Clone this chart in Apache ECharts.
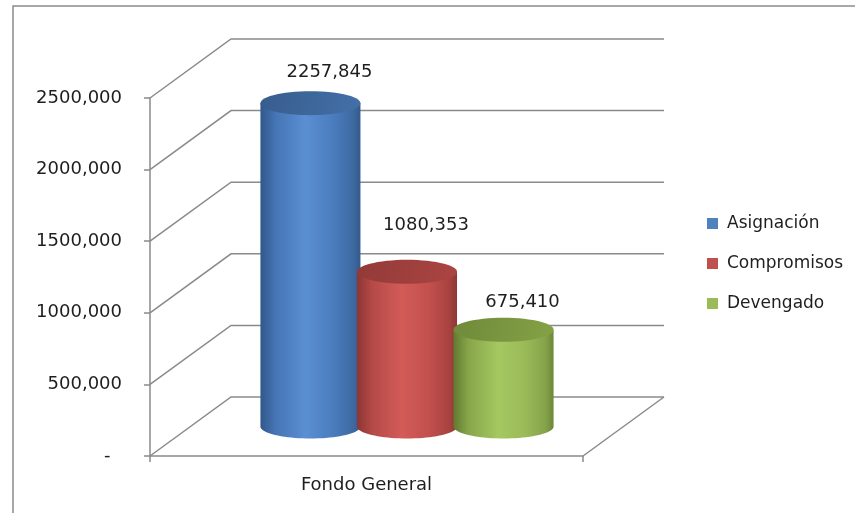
<!DOCTYPE html>
<html>
<head>
<meta charset="utf-8">
<script src="https://cdn.jsdelivr.net/npm/echarts@6/dist/echarts.min.js"></script>
<style>
html,body{margin:0;padding:0;background:#fff;}
#chart{width:855px;height:513px;}
</style>
</head>
<body>
<div id="chart"></div>
<script>
// ---- data ----
const categories = ['Fondo General'];
const seriesNames = ['Asignación', 'Compromisos', 'Devengado'];
const asignacion = [2257.845];
const compromisos = [1080.353];
const devengado = [675.410];
const yTicks = [0, 500, 1000, 1500, 2000, 2500];

// ---- styling ----
const FONT = 'DejaVu Sans';
const DEPTH = { dx: 81, dy: -59 };
const BAR_STEP = 0.223;     // fraction of band between bar centers
const BAR_HALF = 0.1155;    // half bar width as fraction of band
const ELL_RY = 12;
const LABEL_LIFT = [31, 46, 27];
const LABEL_SHIFT = 19;
const palettes = [
  { base: '#4F81BD', body: ['#31588a', '#4575b5', '#5a8fd2', '#4b7dbf', '#3e6aa3', '#345a8c'], top: ['#375d8c', '#4470a8'] },
  { base: '#C0504D', body: ['#8c3533', '#b44a47', '#d35b58', '#c2504d', '#a8433f', '#8d3836'], top: ['#923a38', '#ab4542'] },
  { base: '#9BBB59', body: ['#617a30', '#87a64a', '#a5c861', '#9aba58', '#85a34a', '#6c8738'], top: ['#6f8a39', '#84a246'] }
];
const GRID_COLOR = '#8a8a8a';

function fmt(v) { return v.toFixed(3).replace('.', ','); }

function ellipsePts(cx, cy, rx, ry, a0, a1, n) {
  const pts = [];
  for (let i = 0; i <= n; i++) {
    const a = a0 + (a1 - a0) * i / n;
    pts.push([cx + rx * Math.cos(a), cy + ry * Math.sin(a)]);
  }
  return pts;
}

function cylinder(sIdx) {
  const pal = palettes[sIdx];
  return function (params, api) {
    const cat = api.value(0), v = api.value(1);
    const band = api.size([1, 0])[0];
    const c = api.coord([cat, v]);
    const b = api.coord([cat, 0]);
    const cx = c[0] + (sIdx - 1) * band * BAR_STEP + DEPTH.dx / 2;
    const yt = c[1] + DEPTH.dy / 2;
    const yb = b[1] + DEPTH.dy / 2;
    const rx = band * BAR_HALF;
    const bodyPts = [[cx - rx, yt]].concat(ellipsePts(cx, yb, rx, ELL_RY, Math.PI, 0, 40)).concat([[cx + rx, yt]]);
    const topPts = ellipsePts(cx, yt, rx, ELL_RY, 0, Math.PI * 2, 60);
    const bs = pal.body;
    return {
      type: 'group',
      children: [
        {
          type: 'polygon',
          shape: { points: bodyPts },
          style: {
            fill: new echarts.graphic.LinearGradient(0, 0, 1, 0, [
              { offset: 0, color: bs[0] }, { offset: 0.15, color: bs[1] },
              { offset: 0.45, color: bs[2] }, { offset: 0.72, color: bs[3] },
              { offset: 0.92, color: bs[4] }, { offset: 1, color: bs[5] }
            ])
          }
        },
        {
          type: 'polygon',
          shape: { points: topPts },
          style: {
            fill: new echarts.graphic.LinearGradient(0, 0, 1, 1, [
              { offset: 0, color: pal.top[0] }, { offset: 1, color: pal.top[1] }
            ])
          }
        },
        {
          type: 'text',
          style: {
            x: cx + LABEL_SHIFT, y: yt - LABEL_LIFT[sIdx],
            text: fmt(v), fill: '#1e1e1e',
            font: '18px "' + FONT + '"',
            align: 'center', verticalAlign: 'middle'
          }
        }
      ]
    };
  };
}

function wall(params, api) {
  const v = api.value(1);
  const cs = params.coordSys;
  const y = api.coord([0, v])[1];
  const x0 = cs.x, x1 = cs.x + cs.width;
  const lineStyle = { stroke: GRID_COLOR, lineWidth: 1.5, fill: null };
  const children = [{
    type: 'polyline',
    shape: { points: [[x0, y], [x0 + DEPTH.dx, y + DEPTH.dy], [x1 + DEPTH.dx, y + DEPTH.dy]] },
    style: lineStyle
  }];
  if (v === 0) {
    children.push({
      type: 'polyline',
      shape: { points: [[x1, y], [x1 + DEPTH.dx, y + DEPTH.dy]] },
      style: lineStyle
    });
  }
  return { type: 'group', children: children };
}

const seriesData = [asignacion, compromisos, devengado];

const chart = echarts.init(document.getElementById('chart'), null, { renderer: 'canvas' });
chart.setOption({
  animation: false,
  backgroundColor: '#fff',
  textStyle: { fontFamily: FONT },
  graphic: [{
    type: 'rect', z: -10,
    shape: { x: 13, y: 6, width: 900, height: 600 },
    style: { fill: null, stroke: '#8c8c8c', lineWidth: 1.5 }
  }],
  grid: { left: 150, top: 98, width: 433, height: 358 },
  legend: {
    orient: 'vertical', left: 707, top: 215, padding: 0,
    itemWidth: 11, itemHeight: 11, itemGap: 23,
    icon: 'rect',
    textStyle: { fontFamily: FONT, fontSize: 17, color: '#1e1e1e', padding: [0, 0, 0, 4] },
    data: seriesNames
  },
  xAxis: {
    type: 'category', data: categories,
    axisLine: { lineStyle: { color: GRID_COLOR, width: 1.5 } },
    axisTick: { show: true, length: 6, lineStyle: { color: GRID_COLOR, width: 1.5 } },
    axisLabel: { fontFamily: FONT, fontSize: 18, color: '#1e1e1e', margin: 20 },
    splitLine: { show: false }
  },
  yAxis: {
    type: 'value', min: 0, max: 2500, interval: 500,
    axisLine: { show: true, lineStyle: { color: GRID_COLOR, width: 1.5 } },
    axisTick: { show: true, length: 6, lineStyle: { color: GRID_COLOR, width: 1.5 } },
    splitLine: { show: false },
    axisLabel: {
      fontFamily: FONT, fontSize: 18, color: '#1e1e1e', margin: 28,
      formatter: function (v) { return v === 0 ? '-  ' : fmt(v); }
    }
  },
  series: [
    {
      type: 'custom', name: 'wall', silent: true, z: 1,
      renderItem: wall,
      data: yTicks.map(function (v) { return [0, v]; })
    }
  ].concat(seriesNames.map(function (name, i) {
    return {
      type: 'custom', name: name, z: 2 + i,
      itemStyle: { color: palettes[i].base },
      renderItem: cylinder(i),
      data: seriesData[i].map(function (v, j) { return [j, v]; })
    };
  }))
});
</script>
</body>
</html>
